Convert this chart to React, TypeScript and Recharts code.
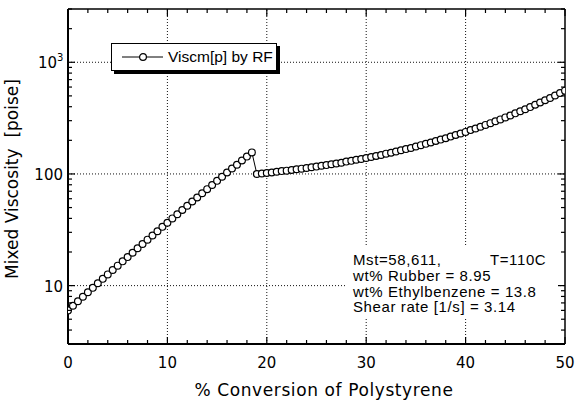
import React from 'react';
import { LineChart, Line, XAxis, YAxis, ReferenceLine, Legend } from 'recharts';

// ---------- data ----------
const conversion = [
  0, 0.5, 1, 1.5, 2, 2.5, 3, 3.5, 4, 4.5, 5, 5.5, 6, 6.5, 7, 7.5, 8, 8.5, 9, 9.5,
  10, 10.5, 11, 11.5, 12, 12.5, 13, 13.5, 14, 14.5, 15, 15.5, 16, 16.5, 17, 17.5, 18, 18.5,
  19, 19.5, 20, 20.5, 21, 21.5, 22, 22.5, 23, 23.5, 24, 24.5, 25, 25.5, 26, 26.5, 27, 27.5,
  28, 28.5, 29, 29.5, 30, 30.5, 31, 31.5, 32, 32.5, 33, 33.5, 34, 34.5, 35, 35.5, 36, 36.5,
  37, 37.5, 38, 38.5, 39, 39.5, 40, 40.5, 41, 41.5, 42, 42.5, 43, 43.5, 44, 44.5, 45, 45.5,
  46, 46.5, 47, 47.5, 48, 48.5, 49, 49.5, 50,
];
const viscosity = [
  6.0, 6.6, 7.24, 7.94, 8.71, 9.55, 10.5, 11.5, 12.6, 13.8, 15.1, 16.5, 18.0, 19.7, 21.6, 23.6, 25.8, 28.1, 30.7, 33.6,
  36.6, 40.0, 43.6, 47.6, 51.9, 56.6, 61.6, 67.1, 73.1, 79.6, 86.7, 94.3, 103, 112, 121, 132, 143, 156,
  100, 101, 102, 103, 104.5, 106, 107, 108.5, 110, 111.5, 113, 114.7, 116.4, 118.3, 120, 122,
  124, 126, 129, 131, 134, 136, 139, 142, 145, 148, 152, 155, 159, 163, 167, 171, 176, 181,
  186, 191, 197, 203, 209, 216, 223, 230, 238, 247, 255, 265, 275, 285, 296, 308, 321, 334,
  349, 364, 380, 397, 416, 436, 457, 479, 504, 530, 557,
];
const xTicks = [0, 2, 4, 6, 8, 10, 12, 14, 16, 18, 20, 22, 24, 26, 28, 30, 32, 34, 36, 38, 40, 42, 44, 46, 48, 50];
const xLabeled = [0, 10, 20, 30, 40, 50];
const yTicks = [3, 4, 5, 6, 7, 8, 9, 10, 20, 30, 40, 50, 60, 70, 80, 90, 100, 200, 300, 400, 500, 600, 700, 800, 900, 1000, 2000, 3000];
const yLabeled = [10, 100, 1000];
const gridX = [10, 20, 30, 40];
const gridY = [10, 100, 1000];
const seriesName = 'Viscm[p] by RF';
const xTitle = '% Conversion of Polystyrene';
const yTitle = 'Mixed Viscosity  [poise]';
const noteLines = ['Mst=58,611,', 'wt% Rubber = 8.95', 'wt% Ethylbenzene = 13.8', 'Shear rate [1/s] = 3.14'];
const noteTemp = 'T=110C';

const data = conversion.map((x, i) => ({ x, y: viscosity[i] }));

// ---------- layout ----------
const W = 579;
const H = 402;
const PLOT_TOP = 9;
const PLOT_RIGHT = 565;
const TICK_FONT = '"DejaVu Sans", sans-serif';
const NOTE_FONT = '"Liberation Sans", Arial, sans-serif';

const renderXTick = (props: any) => {
  const { x, y, payload } = props;
  const v = payload.value;
  const major = xLabeled.includes(v);
  const len = major ? 7 : 4;
  return (
    <g>
      <line x1={x} x2={x} y1={y} y2={y - len} stroke="#000" strokeWidth={1.2} />
      <line x1={x} x2={x} y1={PLOT_TOP} y2={PLOT_TOP + len} stroke="#000" strokeWidth={1.2} />
      {major && (
        <text x={x} y={y + 24} textAnchor="middle" fontFamily={TICK_FONT} fontSize={15} fill="#000">
          {v}
        </text>
      )}
    </g>
  );
};

const renderYTick = (props: any) => {
  const { x, y, payload } = props;
  const v = payload.value;
  const major = yLabeled.includes(v);
  const len = major ? 7 : 4;
  let label: React.ReactNode = null;
  if (v === 1000) {
    label = (
      <text x={x - 30} y={y + 6} textAnchor="start" fontFamily={TICK_FONT} fontSize={15} fill="#000">
        10
        <tspan dy={-7} fontSize={10}>3</tspan>
      </text>
    );
  } else if (major) {
    label = (
      <text x={x - 5} y={y + 6} textAnchor="end" fontFamily={TICK_FONT} fontSize={15} fill="#000">
        {v}
      </text>
    );
  }
  return (
    <g>
      <line x1={x} x2={x + len} y1={y} y2={y} stroke="#000" strokeWidth={1.2} />
      <line x1={PLOT_RIGHT} x2={PLOT_RIGHT - len} y1={y} y2={y} stroke="#000" strokeWidth={1.2} />
      {label}
    </g>
  );
};

const renderLegend = () => (
  <div
    style={{
      width: 166,
      height: 28,
      boxSizing: 'border-box',
      border: '1px solid #000',
      boxShadow: '3px 3px 0 #000',
      background: '#fff',
      display: 'flex',
      alignItems: 'center',
    }}
  >
    <svg width={56} height={16} style={{ display: 'block' }}>
      <line x1={10} x2={51} y1={8} y2={8} stroke="#000" strokeWidth={1} />
      <circle cx={31} cy={8} r={3.4} fill="#fff" stroke="#000" strokeWidth={1.2} />
    </svg>
    <span style={{ fontFamily: NOTE_FONT, fontSize: 15.5, color: '#000', lineHeight: '16px' }}>{seriesName}</span>
  </div>
);

export default function App() {
  return (
    <div style={{ position: 'absolute', left: 0, top: 0, width: W, height: H, background: '#fff' }}>
      <LineChart width={W} height={H} data={data} margin={{ top: PLOT_TOP, right: W - PLOT_RIGHT, bottom: 28, left: 0 }}>
        <XAxis
          dataKey="x"
          type="number"
          domain={[0, 50]}
          ticks={xTicks}
          interval={0}
          tick={renderXTick}
          tickLine={false}
          tickSize={0}
          tickMargin={0}
          axisLine={{ stroke: '#000', strokeWidth: 2 }}
          height={30}
          allowDataOverflow
        />
        <YAxis
          type="number"
          scale="log"
          domain={[3, 3000]}
          ticks={yTicks}
          interval={0}
          tick={renderYTick}
          tickLine={false}
          tickSize={0}
          tickMargin={0}
          axisLine={{ stroke: '#000', strokeWidth: 2 }}
          width={68}
          allowDataOverflow
        />
        {gridX.map((g) => (
          <ReferenceLine key={'gx' + g} x={g} stroke="#111" strokeWidth={1} strokeDasharray="1 2" />
        ))}
        {gridY.map((g) => (
          <ReferenceLine key={'gy' + g} y={g} stroke="#111" strokeWidth={1} strokeDasharray="1 2" />
        ))}
        <ReferenceLine y={3000} stroke="#000" strokeWidth={1.5} />
        <ReferenceLine x={50} stroke="#000" strokeWidth={1.5} />
        <Legend
          layout="horizontal"
          verticalAlign="middle"
          align="center"
          content={renderLegend}
          wrapperStyle={{ position: 'absolute', left: 111, top: 43, width: 166, height: 28 }}
        />
        <Line
          dataKey="y"
          name={seriesName}
          type="linear"
          stroke="#000"
          strokeWidth={1}
          dot={{ r: 3.4, fill: '#fff', stroke: '#000', strokeWidth: 1.2 }}
          activeDot={false}
          isAnimationActive={false}
        />
      </LineChart>
      <svg width={W} height={H} style={{ position: 'absolute', left: 0, top: 0, pointerEvents: 'none' }}>
        <text
          transform="translate(18,179) rotate(-90)"
          textAnchor="middle"
          fontFamily={TICK_FONT}
          fontSize={17}
          fill="#000"
          style={{ whiteSpace: 'pre' }}
        >
          {yTitle}
        </text>
        <text x={324} y={396} textAnchor="middle" fontFamily={TICK_FONT} fontSize={17} letterSpacing={0.6} fill="#000">
          {xTitle}
        </text>
        <rect x={347} y={245} width={211} height={73} fill="#fff" />
        {noteLines.map((t, i) => (
          <text key={t} x={353} y={265 + i * 15.8} fontFamily={NOTE_FONT} fontSize={15} letterSpacing={0.6} fill="#000">
            {t}
          </text>
        ))}
        <text x={490} y={265} fontFamily={NOTE_FONT} fontSize={15} letterSpacing={0.6} fill="#000">
          {noteTemp}
        </text>
      </svg>
    </div>
  );
}
